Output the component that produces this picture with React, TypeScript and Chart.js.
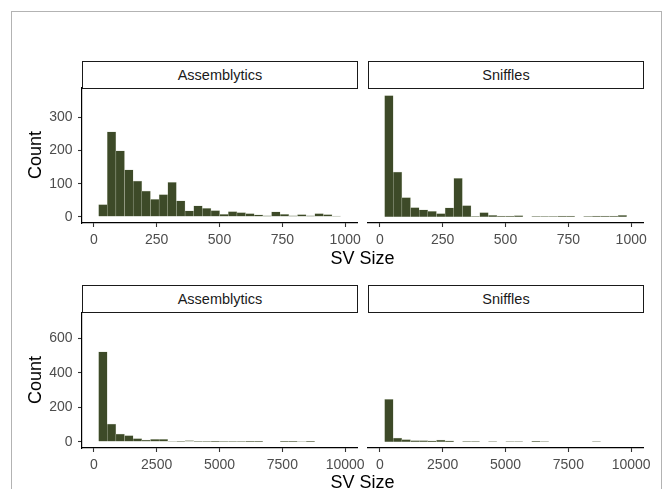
import React, { useEffect, useRef } from 'react';
import { Chart, registerables } from 'chart.js';

Chart.register(...registerables);

// ---------- data ----------
const facetLabels = ['Assemblytics', 'Sniffles'];
const xTitle = 'SV Size';
const yTitle = 'Count';

// histogram bin centres (SV size)
const smallBinCenters = [36.2, 70.6, 105.0, 139.4, 173.8, 208.2, 242.6, 277.0, 311.4, 345.8, 380.2, 414.6, 449.0, 483.4, 517.8, 552.2, 586.6, 621.0, 655.4, 689.8, 724.2, 758.6, 793.0, 827.4, 861.8, 896.2, 930.6, 965.0];
const largeBinCenters = [362, 706, 1050, 1394, 1738, 2082, 2426, 2770, 3114, 3458, 3802, 4146, 4490, 4834, 5178, 5522, 5866, 6210, 6554, 6898, 7242, 7586, 7930, 8274, 8618];

// counts per bin
const assemblyticsSmall = [37, 256, 199, 142, 108, 78, 53, 67, 104, 48, 18, 33, 26, 19, 8, 16, 13, 10, 6, 3, 15, 8, 3, 7, 3, 10, 7, 2];
const snifflesSmall = [366, 135, 58, 28, 21, 17, 10, 27, 116, 34, 1, 13, 5, 2, 2, 4, null, 1, 1, 1, 2, 2, null, 1, 2, 2, 2, 5];
const assemblyticsLarge = [522, 103, 45, 36, 19, 10, 15, 15, 3, 2, 7, 2, 2, 1, 2, 2, 2, 1, 1, null, null, 1, 1, 3, 1];
const snifflesLarge = [247, 22, 13, 8, 8, 6, 10, 6, null, 2, 2, null, 1, null, 1, 1, null, 3, 1, null, null, null, null, null, 1];

// axis ticks and ranges
const smallXTicks = [0, 250, 500, 750, 1000];
const largeXTicks = [0, 2500, 5000, 7500, 10000];
const smallYTicks = [0, 100, 200, 300];
const largeYTicks = [0, 200, 400, 600];
const smallXRange = [-47, 1047];
const largeXRange = [-470, 10470];
const smallYRange = [-18.5, 388.5];
const largeYRange = [-35.6, 747.6];

// ---------- style ----------
const FONT = '"Liberation Sans", Arial, Helvetica, sans-serif';
const BAR_FILL = '#3d4a28';
const BAR_EDGE = 'rgba(175,184,160,0.65)';
const PAD_T = 16;
const PAD_R = 20;
const PAD_L_RIGHTPANEL = 10;
const Y_AXIS_W = 82;
const X_AXIS_H = 30;
const PLOT_W = 275;
const PLOT_H = 135;

type PanelProps = {
  left: number;
  top: number;
  centers: number[];
  counts: (number | null)[];
  xRange: number[];
  yRange: number[];
  xTicks: number[];
  yTicks: number[];
  showY: boolean;
};

function Panel(p: PanelProps) {
  const ref = useRef<HTMLCanvasElement>(null);
  const padL = p.showY ? 0 : PAD_L_RIGHTPANEL;
  const yW = p.showY ? Y_AXIS_W : 0;
  const w = padL + yW + PLOT_W + PAD_R;
  const h = PAD_T + PLOT_H + X_AXIS_H;

  useEffect(() => {
    if (!ref.current) return;
    const chart = new Chart(ref.current, {
      type: 'bar',
      data: {
        datasets: [
          {
            data: p.centers.map((x, i) => ({ x, y: p.counts[i] })),
            backgroundColor: BAR_FILL,
            borderColor: BAR_EDGE,
            borderWidth: 0.5,
            barPercentage: 1,
            categoryPercentage: 1,
          } as any,
        ],
      },
      options: {
        animation: false,
        responsive: false,
        maintainAspectRatio: false,
        events: [],
        layout: { padding: { top: PAD_T, right: PAD_R, left: padL, bottom: 0 } },
        plugins: { legend: { display: false }, tooltip: { enabled: false }, title: { display: false } },
        scales: {
          x: {
            type: 'linear',
            offset: false,
            min: p.xRange[0],
            max: p.xRange[1],
            afterBuildTicks: (s: any) => {
              s.ticks = p.xTicks.map((v) => ({ value: v }));
            },
            afterFit: (s: any) => {
              s.height = X_AXIS_H;
            },
            grid: {
              display: true,
              offset: false,
              drawOnChartArea: false,
              drawTicks: true,
              tickLength: 4,
              tickColor: '#333333',
              tickWidth: 1.1,
            },
            border: { display: true, color: '#000000', width: 1.2 },
            ticks: {
              color: '#4d4d4d',
              font: { family: FONT, size: 14 },
              padding: 4.5,
              maxRotation: 0,
              autoSkip: false,
              callback: (v: any) => String(v),
            },
          },
          y: {
            type: 'linear',
            display: p.showY,
            min: p.yRange[0],
            max: p.yRange[1],
            afterBuildTicks: (s: any) => {
              s.ticks = p.yTicks.map((v) => ({ value: v }));
            },
            afterFit: (s: any) => {
              s.width = yW;
            },
            grid: {
              display: true,
              drawOnChartArea: false,
              drawTicks: true,
              tickLength: 4,
              tickColor: '#333333',
              tickWidth: 1.1,
            },
            border: { display: true, color: '#000000', width: 1.2 },
            ticks: {
              color: '#4d4d4d',
              font: { family: FONT, size: 14 },
              padding: 5.5,
              autoSkip: false,
              callback: (v: any) => String(v),
            },
          },
        },
      } as any,
    });
    return () => chart.destroy();
  }, []);

  return (
    <canvas
      ref={ref}
      width={w}
      height={h}
      style={{ position: 'absolute', left: p.left - padL - yW, top: p.top - PAD_T, width: w, height: h }}
    />
  );
}

function Strip({ left, top, label }: { left: number; top: number; label: string }) {
  return (
    <div
      style={{
        position: 'absolute',
        left,
        top,
        width: 276,
        height: 28,
        boxSizing: 'border-box',
        border: '1.2px solid #1a1a1a',
        background: '#ffffff',
        display: 'flex',
        alignItems: 'center',
        justifyContent: 'center',
        fontFamily: FONT,
        fontSize: 14.5,
        color: '#1a1a1a',
      }}
    >
      {label}
    </div>
  );
}

function TextAt({ x, y, text, rotate }: { x: number; y: number; text: string; rotate?: boolean }) {
  return (
    <div
      style={{
        position: 'absolute',
        left: x,
        top: y,
        transform: `translate(-50%, -50%)${rotate ? ' rotate(-90deg)' : ''}`,
        fontFamily: FONT,
        fontSize: 18,
        lineHeight: 1,
        color: '#000000',
        whiteSpace: 'nowrap',
      }}
    >
      {text}
    </div>
  );
}

export default function App() {
  const leftX = 82;
  const rightX = 368;
  const topRowY = 88;
  const bottomRowY = 313;
  return (
    <div
      style={{
        position: 'absolute',
        left: 0,
        top: 0,
        width: 663,
        height: 489,
        overflow: 'hidden',
        background: '#ffffff',
      }}
    >
      <div
        style={{
          position: 'absolute',
          left: 11,
          top: 11,
          width: 651,
          height: 520,
          boxSizing: 'border-box',
          border: '1px solid #b3b3b3',
        }}
      />
      {/* top row: 0-1000 */}
      <Strip left={leftX} top={61} label={facetLabels[0]} />
      <Strip left={rightX} top={61} label={facetLabels[1]} />
      <Panel left={leftX} top={topRowY} centers={smallBinCenters} counts={assemblyticsSmall} xRange={smallXRange} yRange={smallYRange} xTicks={smallXTicks} yTicks={smallYTicks} showY={true} />
      <Panel left={rightX} top={topRowY} centers={smallBinCenters} counts={snifflesSmall} xRange={smallXRange} yRange={smallYRange} xTicks={smallXTicks} yTicks={smallYTicks} showY={false} />
      <TextAt x={35} y={154.5} text={yTitle} rotate />
      <TextAt x={362.5} y={257.5} text={xTitle} />

      {/* bottom row: 0-10000 */}
      <Strip left={leftX} top={285} label={facetLabels[0]} />
      <Strip left={rightX} top={285} label={facetLabels[1]} />
      <Panel left={leftX} top={bottomRowY} centers={largeBinCenters} counts={assemblyticsLarge} xRange={largeXRange} yRange={largeYRange} xTicks={largeXTicks} yTicks={largeYTicks} showY={true} />
      <Panel left={rightX} top={bottomRowY} centers={largeBinCenters} counts={snifflesLarge} xRange={largeXRange} yRange={largeYRange} xTicks={largeXTicks} yTicks={largeYTicks} showY={false} />
      <TextAt x={35} y={379.5} text={yTitle} rotate />
      <TextAt x={362.5} y={482} text={xTitle} />
    </div>
  );
}
